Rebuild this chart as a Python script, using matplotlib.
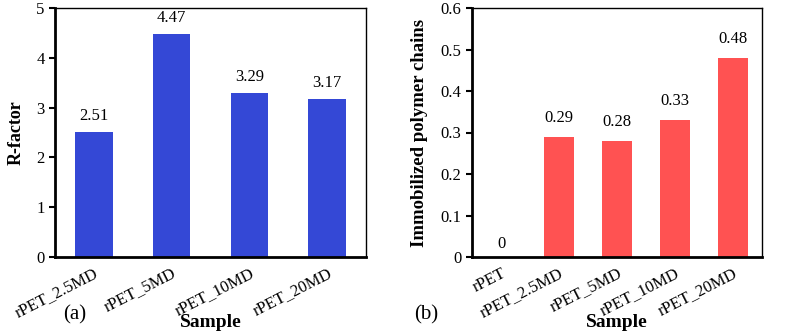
import numpy as np
import matplotlib.pyplot as plt

plt.rcParams['font.family'] = ['Liberation Serif', 'DejaVu Serif']

# данные панели (a)
samples_a = ["rPET_2.5MD", "rPET_5MD", "rPET_10MD", "rPET_20MD"]
r_factor = [2.51, 4.47, 3.29, 3.17]

# данные панели (b)
samples_b = ["rPET", "rPET_2.5MD", "rPET_5MD", "rPET_10MD", "rPET_20MD"]
immob = [0, 0.29, 0.28, 0.33, 0.48]

fig = plt.figure(figsize=(7.87, 3.36), dpi=100)
W, H = 787, 336
ax1 = fig.add_axes([55 / W, 1 - 257 / H, (366 - 55) / W, (257 - 8) / H])
ax2 = fig.add_axes([472 / W, 1 - 257 / H, (762 - 472) / W, (257 - 8) / H])


def style(ax):
    for s in ["top", "right"]:
        ax.spines[s].set_linewidth(1.0)
    for s in ["left", "bottom"]:
        ax.spines[s].set_linewidth(2.0)
    ax.tick_params(axis="y", direction="out", length=4, width=1.5, labelsize=12)
    ax.tick_params(axis="x", length=0, labelsize=12, pad=6)


# панель (a)
x = np.arange(len(samples_a))
ax1.bar(x, r_factor, width=0.48, color="#3448d6")
for xi, v in zip(x, r_factor):
    ax1.text(xi, v + 0.17, "%.2f" % v, ha="center", va="bottom", fontsize=12)
ax1.set_xlim(-0.5, len(samples_a) - 0.5)
ax1.set_ylim(0, 5)
ax1.set_yticks(range(6))
ax1.set_xticks(x)
ax1.set_xticklabels(samples_a, rotation=27, ha="right", rotation_mode="anchor")
ax1.set_ylabel("R-factor", fontsize=13, fontweight="bold", labelpad=8)
ax1.set_xlabel("Sample", fontsize=14, fontweight="bold", labelpad=-5)
style(ax1)
fig.text(75 / W, 1 - 315 / H, "(a)", fontsize=15, ha="center", va="center")

# панель (b)
x = np.arange(len(samples_b))
ax2.bar(x, immob, width=0.52, color="#ff5252")
for xi, v in zip(x, immob):
    lab = "0" if v == 0 else "%.2f" % v
    ax2.text(xi, v + (0.012 if v == 0 else 0.026), lab, ha="center", va="bottom", fontsize=12)
ax2.set_xlim(-0.5, len(samples_b) - 0.5)
ax2.set_ylim(0, 0.6)
ax2.set_yticks(np.arange(0, 0.61, 0.1))
ax2.set_yticklabels(["0", "0.1", "0.2", "0.3", "0.4", "0.5", "0.6"])
ax2.set_xticks(x)
ax2.set_xticklabels(samples_b, rotation=27, ha="right", rotation_mode="anchor")
ax2.set_ylabel("Immobilized polymer chains", fontsize=13.5, fontweight="bold", labelpad=9)
ax2.set_xlabel("Sample", fontsize=14, fontweight="bold", labelpad=-5)
style(ax2)
fig.text(426 / W, 1 - 315 / H, "(b)", fontsize=15, ha="center", va="center")

plt.savefig("out.png", dpi=100)
